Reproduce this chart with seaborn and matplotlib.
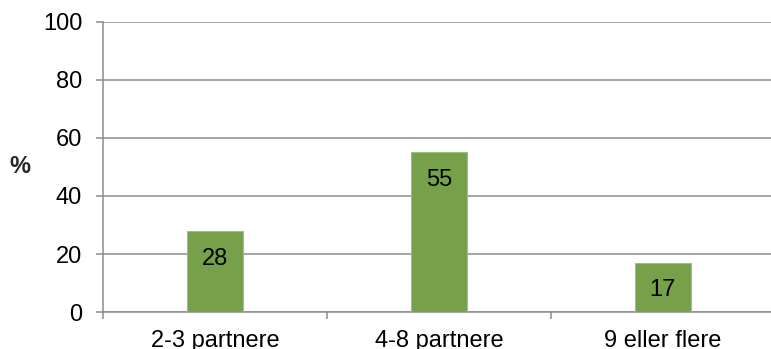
import matplotlib
matplotlib.use("Agg")
import matplotlib.pyplot as plt
import seaborn as sns
import pandas as pd
from matplotlib.ticker import FixedLocator

categories = ["2-3 partnere", "4-8 partnere", "9 eller flere"]
values = [28, 55, 17]
yticks = [0, 20, 40, 60, 80, 100]

sns.set_style("white")
plt.rcParams["font.family"] = ["Liberation Sans", "DejaVu Sans"]

df = pd.DataFrame({"cat": categories, "val": values})

fig = plt.figure(figsize=(7.71, 3.49), dpi=100)
ax = fig.add_axes([0.1336, 0.106, 0.8714, 0.831])

green = "#77A04A"
sns.barplot(data=df, x="cat", y="val", color=green, width=0.25, ax=ax,
            saturation=1, edgecolor="#9DC07A", linewidth=0.8, zorder=3)

grid_c = "#8C8C8C"
fs = 17
ax.set_ylim(0, 100)
ax.set_xlim(-0.5, 2.5)
ax.set_yticks(yticks)
ax.set_yticklabels([str(v) for v in yticks])
ax.yaxis.grid(True, color=grid_c, linewidth=1.1, zorder=0)
ax.set_axisbelow(True)

for s in ["top", "right"]:
    ax.spines[s].set_visible(False)
for s in ["left", "bottom"]:
    ax.spines[s].set_color(grid_c)
    ax.spines[s].set_linewidth(1.1)

ax.tick_params(axis="y", which="major", length=5, width=1.1, color=grid_c,
               labelsize=fs, pad=10, labelcolor="black", left=True)
ax.xaxis.set_minor_locator(FixedLocator([-0.5, 0.5, 1.5, 2.5]))
ax.tick_params(axis="x", which="major", length=0, labelsize=fs, pad=13,
               labelcolor="black")
ax.tick_params(axis="x", which="minor", length=5, width=1.1, color=grid_c,
               bottom=True)

ax.set_xlabel("")
ax.set_ylabel("%", rotation=0, fontsize=fs, fontweight="bold", labelpad=0,
              ha="center", va="center")
ax.yaxis.set_label_coords(-0.1235, 0.5)

for i, v in enumerate(values):
    ax.annotate(str(v), xy=(i, v), xytext=(0, -20), textcoords="offset points",
                ha="center", va="center", fontsize=fs, color="black", zorder=4)

fig.savefig("out.png", dpi=100)
